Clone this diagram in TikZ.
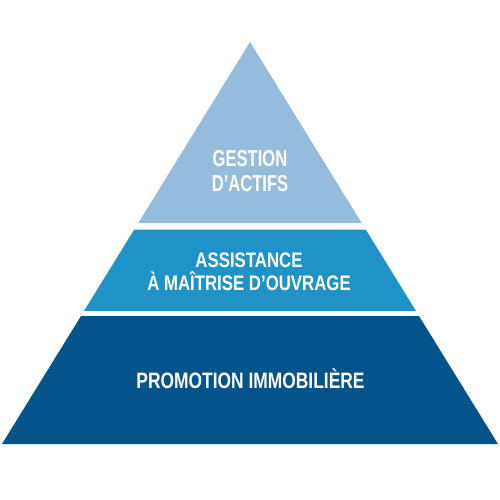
\documentclass[tikz,border=0pt]{standalone}
\usepackage{fontspec}
\setmainfont{Liberation Sans}
\newfontfamily\ftop[FakeStretch=0.72]{Liberation Sans}
\newfontfamily\fmid[FakeStretch=0.80]{Liberation Sans}
\newfontfamily\fbot[FakeStretch=0.78]{Liberation Sans}
\definecolor{topc}{HTML}{95BCDB}
\definecolor{midc}{HTML}{1F93C7}
\definecolor{botc}{HTML}{04548B}
\begin{document}
\begin{tikzpicture}[x=1pt,y=-1pt,
  lbl/.style={text=white,align=center,inner sep=0pt,anchor=base},
  toplbl/.style={lbl,font=\ftop\fontsize{23}{24}\selectfont\bfseries},
  midlbl/.style={lbl,font=\fmid\fontsize{21}{24}\selectfont\bfseries},
  botlbl/.style={lbl,font=\fbot\fontsize{22.3}{24}\selectfont\bfseries}]
\useasboundingbox (0,0) rectangle (500,500);
\fill[topc] (250,42) -- (361.7,223) -- (138.3,223) -- cycle;
\fill[midc] (134.3,229.5) -- (365.7,229.5) -- (416,311) -- (84,311) -- cycle;
\fill[botc] (81,316) -- (419,316) -- (498,444) -- (2,444) -- cycle;
\node[toplbl] (t1) at (250,166.5) {GESTION};
\node[toplbl] (t2) at (250,191.5) {D’ACTIFS};
\node[midlbl] (m1) at (249,267.5) {ASSISTANCE};
\node[midlbl] (m2) at (249,290) {À MAÎTRISE D’OUVRAGE};
\node[botlbl] (b1) at (250.5,388) {PROMOTION IMMOBILIÈRE};
\end{tikzpicture}
\end{document}
